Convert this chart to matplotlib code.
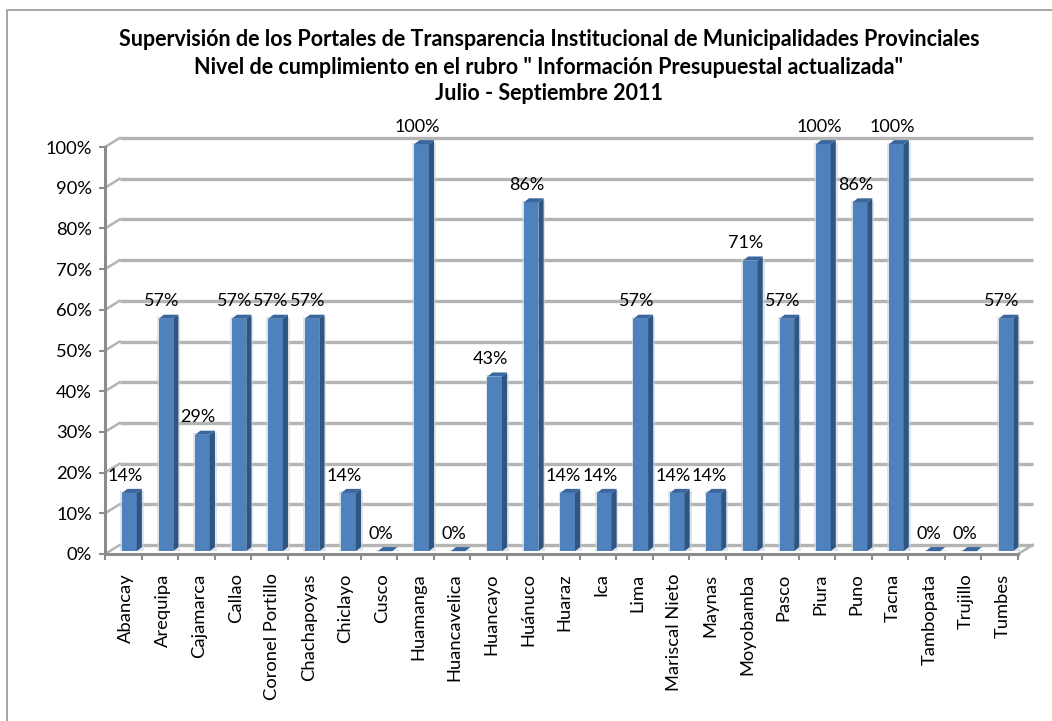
import matplotlib
matplotlib.use("Agg")
import matplotlib.pyplot as plt
from matplotlib.lines import Line2D
from matplotlib.patches import Polygon, Rectangle

FIG_W, FIG_H = 1052, 721
DEPTH_X = 0.40   # category units
DEPTH_Y = 2.2    # percent units

cities = ["Abancay", "Arequipa", "Cajamarca", "Callao", "Coronel Portillo",
          "Chachapoyas", "Chiclayo", "Cusco", "Huamanga", "Huancavelica",
          "Huancayo", "Huánuco", "Huaraz", "Ica", "Lima", "Mariscal Nieto",
          "Maynas", "Moyobamba", "Pasco", "Piura", "Puno", "Tacna",
          "Tambopata", "Trujillo", "Tumbes"]
values = [14.3, 57.1, 28.6, 57.1, 57.1, 57.1, 14.3, 0, 100, 0, 42.9, 85.7,
          14.3, 14.3, 57.1, 14.3, 14.3, 71.4, 57.1, 100, 85.7, 100, 0, 0, 57.1]
labels = ["14%", "57%", "29%", "57%", "57%", "57%", "14%", "0%", "100%", "0%",
          "43%", "86%", "14%", "14%", "57%", "14%", "14%", "71%", "57%", "100%",
          "86%", "100%", "0%", "0%", "57%"]
title_lines = ["Supervisión de los Portales de Transparencia Institucional de Municipalidades Provinciales",
               "Nivel de cumplimiento en el rubro \" Información Presupuestal actualizada\"",
               "Julio - Septiembre 2011"]
yticks = list(range(0, 101, 10))

plt.rcParams["font.family"] = ["Lato", "DejaVu Sans"]

fig = plt.figure(figsize=(FIG_W / 100, FIG_H / 100), dpi=100)
# chart frame: only the top and left edges fall inside the crop
fig.add_artist(Line2D([7 / FIG_W, 7 / FIG_W, 1], [0, 1 - 10 / FIG_H, 1 - 10 / FIG_H],
                      transform=fig.transFigure, color="#a6a6a6", lw=1.4, zorder=-1))

left, right, top, bottom = 105, 1018, 147, 554
ax = fig.add_axes([left / FIG_W, 1 - bottom / FIG_H,
                   (right - left) / FIG_W, (bottom - top) / FIG_H])
n = len(cities)
ax.set_xlim(0, n)
ax.set_ylim(0, 100)
ax.patch.set_visible(False)

# back wall gridlines and their slanted floor links
for y in yticks:
    ax.plot([DEPTH_X, n + DEPTH_X], [y + DEPTH_Y, y + DEPTH_Y], color="#b4b4b4", lw=2.4,
            clip_on=False, zorder=1, solid_capstyle="butt")
    ax.plot([0, DEPTH_X], [y, y + DEPTH_Y], color="#b4b4b4", lw=1.8, clip_on=False, zorder=1)
ax.plot([n, n + DEPTH_X], [0, DEPTH_Y], color="#b4b4b4", lw=1.8, clip_on=False, zorder=1)

base = 0.7  # bars stand a little behind the front plane
for i, (v, lab) in enumerate(zip(values, labels)):
    x0 = i + 0.47
    x1 = x0 + 0.40
    d = 0.14
    dy = 1.0
    h = v + base
    # soft shadow
    ax.add_patch(Rectangle((x0 - 0.05, base), x1 - x0 + d + 0.1, v + dy * 0.4, fc="#c9d3e0", ec="none",
                           alpha=0.6, clip_on=False, zorder=2))
    ax.bar(x0, v, width=x1 - x0, bottom=base, align="edge", color="#4f81bd", edgecolor="none",
           clip_on=False, zorder=3)
    ax.add_patch(Polygon([(x1, base), (x1 + d, base + dy), (x1 + d, h + dy), (x1, h)],
                         fc="#2f5582", ec="none", clip_on=False, zorder=3))
    ax.add_patch(Polygon([(x0, h), (x0 + d, h + dy), (x1 + d, h + dy), (x1, h)],
                         fc="#3a689e", ec="none", clip_on=False, zorder=3))
    ax.text(i + 0.55, v + 3.0, lab, ha="center", va="bottom", fontsize=13,
            color="black", clip_on=False, zorder=5)

ax.set_xticks(range(n + 1))
ax.set_xticks([i + 0.58 for i in range(n)], minor=True)
ax.set_xticklabels([])
ax.set_xticklabels(cities, minor=True, rotation=90, fontsize=13.2)
ax.tick_params(axis="x", which="major", length=4, width=1.5, color="#8c8c8c", direction="out")
ax.tick_params(axis="x", which="minor", length=0, pad=14)
ax.set_yticks(yticks)
ax.set_yticklabels([f"{y}%" for y in yticks], fontsize=13.2)
ax.tick_params(axis="y", length=4.5, width=1.5, color="#8c8c8c", pad=5)
for s in ("top", "right"):
    ax.spines[s].set_visible(False)
for s in ("left", "bottom"):
    ax.spines[s].set_color("#8c8c8c")
    ax.spines[s].set_linewidth(2.2)

for line, py in zip(title_lines, (40, 67, 93)):
    fig.text(549 / FIG_W, 1 - py / FIG_H, line, ha="center", va="center",
             fontsize=15.5, fontweight="bold", color="black")

fig.savefig("out.png", dpi=100)
